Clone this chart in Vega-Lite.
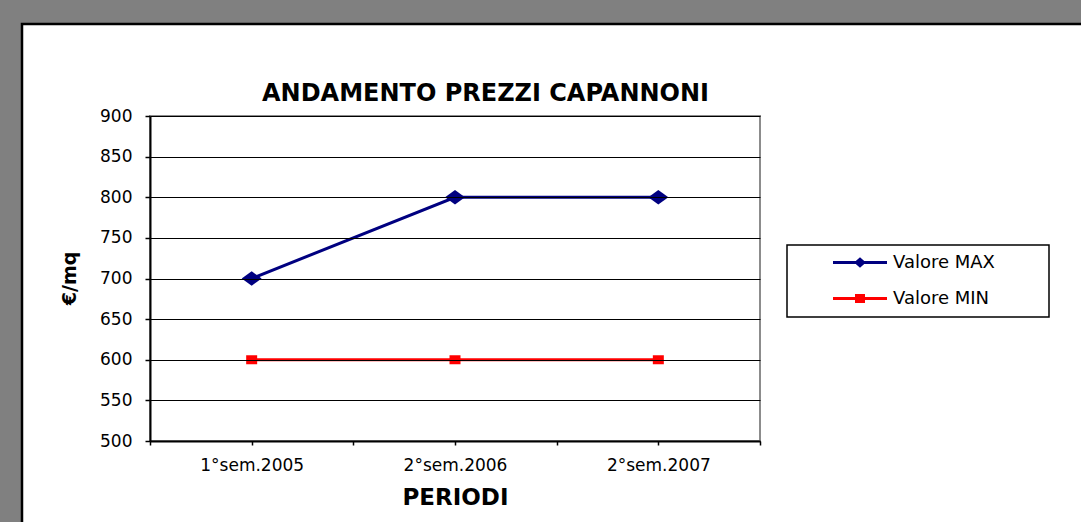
{
  "$schema": "https://vega.github.io/schema/vega-lite/v6.json",
  "autosize": {"type": "none"},
  "width": 1063,
  "height": 502,
  "padding": {"left": 22, "top": 24, "right": -4, "bottom": -4},
  "background": "#808080",
  "config": {
    "view": {"fill": "white", "stroke": "black", "strokeWidth": 2.5},
    "font": "DejaVu Sans"
  },
  "title": {
    "text": "ANDAMENTO PREZZI CAPANNONI",
    "font": "DejaVu Sans",
    "fontWeight": "bold",
    "fontSize": 24,
    "color": "black",
    "anchor": "middle",
    "frame": "group",
    "baseline": "alphabetic",
    "offset": 0,
    "dx": -68,
    "dy": 101
  },
  "data": {
    "values": [
      {"periodo": "1°sem.2005", "n": 1, "serie": "Valore MAX", "valore": 700},
      {"periodo": "2°sem.2006", "n": 2, "serie": "Valore MAX", "valore": 800},
      {"periodo": "2°sem.2007", "n": 3, "serie": "Valore MAX", "valore": 800},
      {"periodo": "1°sem.2005", "n": 1, "serie": "Valore MIN", "valore": 600},
      {"periodo": "2°sem.2006", "n": 2, "serie": "Valore MIN", "valore": 600},
      {"periodo": "2°sem.2007", "n": 3, "serie": "Valore MIN", "valore": 600}
    ]
  },
  "layer": [
    {
      "mark": {"type": "line", "strokeWidth": 3},
      "encoding": {
        "x": {
          "field": "n",
          "type": "quantitative",
          "scale": {"domain": [0.5, 3.5], "range": [128, 738], "nice": false, "zero": false},
          "axis": {
            "values": [0.5, 1, 1.5, 2, 2.5, 3, 3.5],
            "labelExpr": "datum.value === 1 ? '1°sem.2005' : datum.value === 2 ? '2°sem.2006' : datum.value === 3 ? '2°sem.2007' : ''",
            "offset": -85,
            "grid": false,
            "zindex": 1,
            "domainColor": "black",
            "domainWidth": 2,
            "tickColor": "black",
            "tickWidth": 1.5,
            "tickSize": 4,
            "labelFont": "DejaVu Sans",
            "labelFontSize": 17,
            "labelColor": "black",
            "labelBaseline": "alphabetic",
            "labelPadding": 25,
            "labelOverlap": false,
            "labelFlush": false,
            "title": "PERIODI",
            "titleFont": "DejaVu Sans",
            "titleFontWeight": "bold",
            "titleFontSize": 23,
            "titleColor": "black",
            "titleX": 433,
            "titleY": 63,
            "titleAlign": "center",
            "titleBaseline": "alphabetic"
          }
        },
        "y": {
          "field": "valore",
          "type": "quantitative",
          "scale": {"domain": [500, 900], "range": [417, 92], "nice": false, "zero": false},
          "axis": {
            "values": [500, 550, 600, 650, 700, 750, 800, 850, 900],
            "offset": -128,
            "grid": true,
            "gridColor": "black",
            "gridWidth": 1,
            "zindex": 1,
            "domainColor": "black",
            "domainWidth": 2,
            "tickColor": "black",
            "tickWidth": 1.5,
            "tickSize": 5,
            "labelFont": "DejaVu Sans",
            "labelFontSize": 17,
            "labelColor": "black",
            "labelPadding": 13,
            "labelOverlap": false,
            "title": "€/mq",
            "titleFont": "DejaVu Sans",
            "titleFontWeight": "bold",
            "titleFontSize": 19,
            "titleColor": "black",
            "titleAngle": -90,
            "titleX": -81,
            "titleY": 254,
            "titleAlign": "center",
            "titleBaseline": "middle"
          }
        },
        "color": {
          "field": "serie",
          "type": "nominal",
          "scale": {"domain": ["Valore MAX", "Valore MIN"], "range": ["#000080", "#ff0000"]},
          "legend": {
            "orient": "none",
            "legendX": 765,
            "legendY": 221,
            "title": null,
            "padding": 9,
            "strokeColor": "black",
            "fillColor": "white",
            "symbolSize": 2916,
            "symbolStrokeWidth": 0,
            "symbolOffset": 37,
            "labelOffset": 6,
            "clipHeight": 17,
            "rowPadding": 17,
            "labelFont": "DejaVu Sans",
            "labelFontSize": 18,
            "labelColor": "black",
            "labelExpr": "datum.label + '\u2003\u2003\u2002\u200b'",
            "encode": {
              "legend": {"update": {"strokeWidth": {"value": 1.5}}},
              "symbols": {
                "update": {
                  "shape": {"signal": "datum.value === 'Valore MAX' ? 'M-1,-0.055L1,-0.055L1,0.055L-1,0.055Z M0,-0.19L0.22,0L0,0.19L-0.22,0Z' : 'M-1,-0.055L1,-0.055L1,0.055L-1,0.055Z M-0.185,-0.167L0.185,-0.167L0.185,0.167L-0.185,0.167Z'"},
                  "fill": {"scale": "color", "field": "value"},
                  "fillOpacity": {"value": 1},
                  "strokeWidth": {"value": 0},
                  "opacity": {"value": 1}
                }
              }
            }
          }
        }
      }
    },
    {
      "transform": [{"filter": "datum.serie === 'Valore MAX'"}],
      "mark": {"type": "point", "filled": true, "size": 400, "opacity": 1, "shape": "M-1,0L0,-0.72L1,0L0,0.72Z"},
      "encoding": {
        "x": {"field": "n", "type": "quantitative"},
        "y": {"field": "valore", "type": "quantitative"},
        "color": {"field": "serie", "type": "nominal", "legend": null}
      }
    },
    {
      "transform": [{"filter": "datum.serie === 'Valore MIN'"}],
      "mark": {"type": "point", "filled": true, "size": 400, "opacity": 1, "shape": "M-0.55,-0.45H0.55V0.45H-0.55Z"},
      "encoding": {
        "x": {"field": "n", "type": "quantitative"},
        "y": {"field": "valore", "type": "quantitative"},
        "color": {"field": "serie", "type": "nominal", "legend": null}
      }
    },
    {
      "data": {"values": [{}]},
      "mark": {"type": "rect", "fill": null, "fillOpacity": 0, "stroke": "#8c8c8c", "strokeWidth": 2},
      "encoding": {
        "x": {"datum": 0.5, "type": "quantitative"},
        "x2": {"datum": 3.5},
        "y": {"datum": 500, "type": "quantitative"},
        "y2": {"datum": 900}
      }
    }
  ]
}
